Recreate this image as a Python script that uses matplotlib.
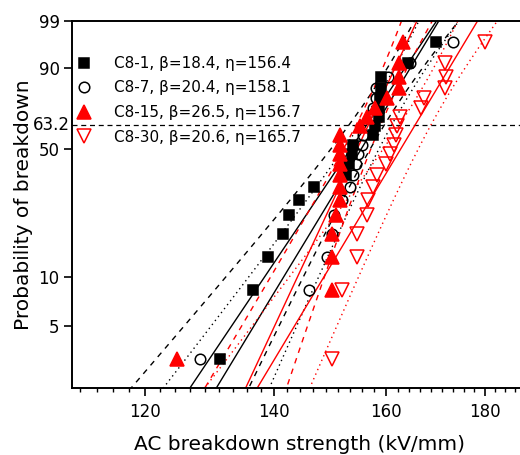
import numpy as np
import matplotlib
matplotlib.use('Agg')
import matplotlib.pyplot as plt
from matplotlib.ticker import FixedLocator, NullFormatter
from matplotlib.lines import Line2D

# ---------------- data ----------------
# plotting positions of the 20 ranked breakdowns (%)
prob = [3.1, 8.3, 13.2, 18.1, 23.0, 27.9, 32.8, 37.7, 42.6, 47.5,
        52.5, 57.4, 62.3, 67.2, 72.1, 77.0, 81.9, 86.8, 91.7, 96.6]

c8_1 = [131.3, 136.5, 139.0, 141.5, 142.5, 144.2, 146.8, 152.5, 153.1, 153.6,
        153.8, 157.5, 157.9, 158.6, 158.6, 158.8, 159.0, 159.0, 164.2, 169.9]
c8_7 = [128.2, 145.9, 149.1, 150.0, 150.3, 151.8, 153.2, 153.8, 154.3, 154.7,
        155.4, 155.6, 156.6, 156.9, 157.5, 158.1, 158.1, 160.3, 164.6, 173.3]
c8_15 = [124.7, 150.0, 150.0, 150.0, 150.7, 151.4, 151.4, 151.4, 151.4, 151.4,
         151.4, 151.4, 155.1, 156.4, 157.9, 160.1, 162.5, 162.5, 162.5, 163.2]
c8_30 = [150.0, 151.8, 154.5, 154.5, 156.4, 156.5, 157.5, 158.2, 160.0, 160.7,
         161.5, 161.9, 162.1, 162.7, 166.8, 167.4, 171.6, 171.8, 171.6, 180.0]

names = ['C8-1', 'C8-7', 'C8-15', 'C8-30']
betas = [18.4, 20.4, 26.5, 20.6]
etas = [156.4, 158.1, 156.7, 165.7]

x_ticks = [120, 140, 160, 180]
y_ticks = [5, 10, 50, 90, 99]
y_ticklabels = ['5', '10', '50', '90', '99']
ref_level = 63.2

# ---------------- styles ----------------
series = [c8_1, c8_7, c8_15, c8_30]
colors = ['black', 'black', 'red', 'red']
markers = ['s', 'o', '^', 'v']
mfaces = ['black', 'none', 'red', 'none']
msizes = [7.4, 7.6, 9.5, 9.5]
bound_styles = [(0, (4, 4)), (0, (1, 2.6)), (0, (4, 4)), (0, (1, 2.6))]


def fwd(p):
    p = np.clip(np.asarray(p, dtype=float), 1e-6, 100 - 1e-6)
    return np.log(-np.log(1 - p / 100.0))


def inv(y):
    return 100.0 * (1 - np.exp(-np.exp(np.asarray(y, dtype=float))))


fig = plt.figure(figsize=(5.2, 4.55), dpi=100)
ax = fig.add_axes([72 / 520, 67 / 455, 455 / 520, 367 / 455])
ax.set_xscale('log')
ax.set_yscale('function', functions=(fwd, inv))

n = len(prob)
ygrid = np.linspace(-4.3, 1.8, 300)
pgrid = inv(ygrid)
z = 1.645
for k in range(4):
    b, e = betas[k], etas[k]
    center = np.log(e) + ygrid / b
    half = z / (b * np.sqrt(n)) * np.sqrt(1.109 - 0.514 * ygrid + 0.608 * ygrid ** 2)
    ax.plot(np.exp(center), pgrid, color=colors[k], lw=1.0, zorder=2)
    ax.plot(np.exp(center - half), pgrid, color=colors[k], lw=1.0,
            linestyle=bound_styles[k], zorder=2)
    ax.plot(np.exp(center + half), pgrid, color=colors[k], lw=1.0,
            linestyle=bound_styles[k], zorder=2)

handles = []
for k in range(4):
    ax.plot(series[k], prob, linestyle='none', marker=markers[k],
            markersize=msizes[k], markerfacecolor=mfaces[k],
            markeredgecolor=colors[k], markeredgewidth=1.1, zorder=3 + k)
    handles.append(Line2D([], [], linestyle='none', marker=markers[k],
                          markersize=msizes[k], markerfacecolor=mfaces[k],
                          markeredgecolor=colors[k], markeredgewidth=1.1))

ax.axhline(ref_level, color='black', lw=0.9, linestyle=(0, (4, 3)), zorder=1)
ax.text(-0.004, ref_level, '63.2', transform=ax.get_yaxis_transform(),
        ha='right', va='center', fontsize=12, clip_on=False)

labels = [f'{names[k]}, \u03b2={betas[k]}, \u03b7={etas[k]}' for k in range(4)]
leg = ax.legend(handles, labels, loc='upper left', bbox_to_anchor=(0.009, 0.905),
                frameon=False, fontsize=11, handlelength=1.0, handletextpad=1.5,
                labelspacing=0.63, borderpad=0, borderaxespad=0, numpoints=1)

ax.set_xlim(110, 189.3)
ax.set_ylim(2.03, 99)

ax.xaxis.set_major_locator(FixedLocator(x_ticks))
ax.set_xticklabels([str(t) for t in x_ticks])
minors = [m for m in np.arange(120 - 4 * 20 / 9, 189.3, 20 / 9)
          if min(abs(m - t) for t in x_ticks) > 0.1]
ax.xaxis.set_minor_locator(FixedLocator(minors))
ax.xaxis.set_minor_formatter(NullFormatter())

ax.yaxis.set_major_locator(FixedLocator(y_ticks))
ax.set_yticklabels(y_ticklabels)
ax.yaxis.set_minor_locator(FixedLocator([]))

ax.tick_params(axis='both', which='major', direction='out', length=6, width=1.2,
               labelsize=12, pad=3)
ax.tick_params(axis='x', which='minor', direction='out', length=3, width=1.0)
ax.tick_params(axis='x', which='major', pad=5)
ax.tick_params(top=False, right=False)

for s in ['left', 'bottom', 'top']:
    ax.spines[s].set_linewidth(1.4)
ax.spines['right'].set_visible(False)

ax.set_xlabel('AC breakdown strength (kV/mm)', fontsize=14.5, labelpad=10)
ax.set_ylabel('Probability of breakdown', fontsize=14.5)
ax.yaxis.set_label_coords(-0.086, 0.5)

fig.savefig('out.png', dpi=100)
